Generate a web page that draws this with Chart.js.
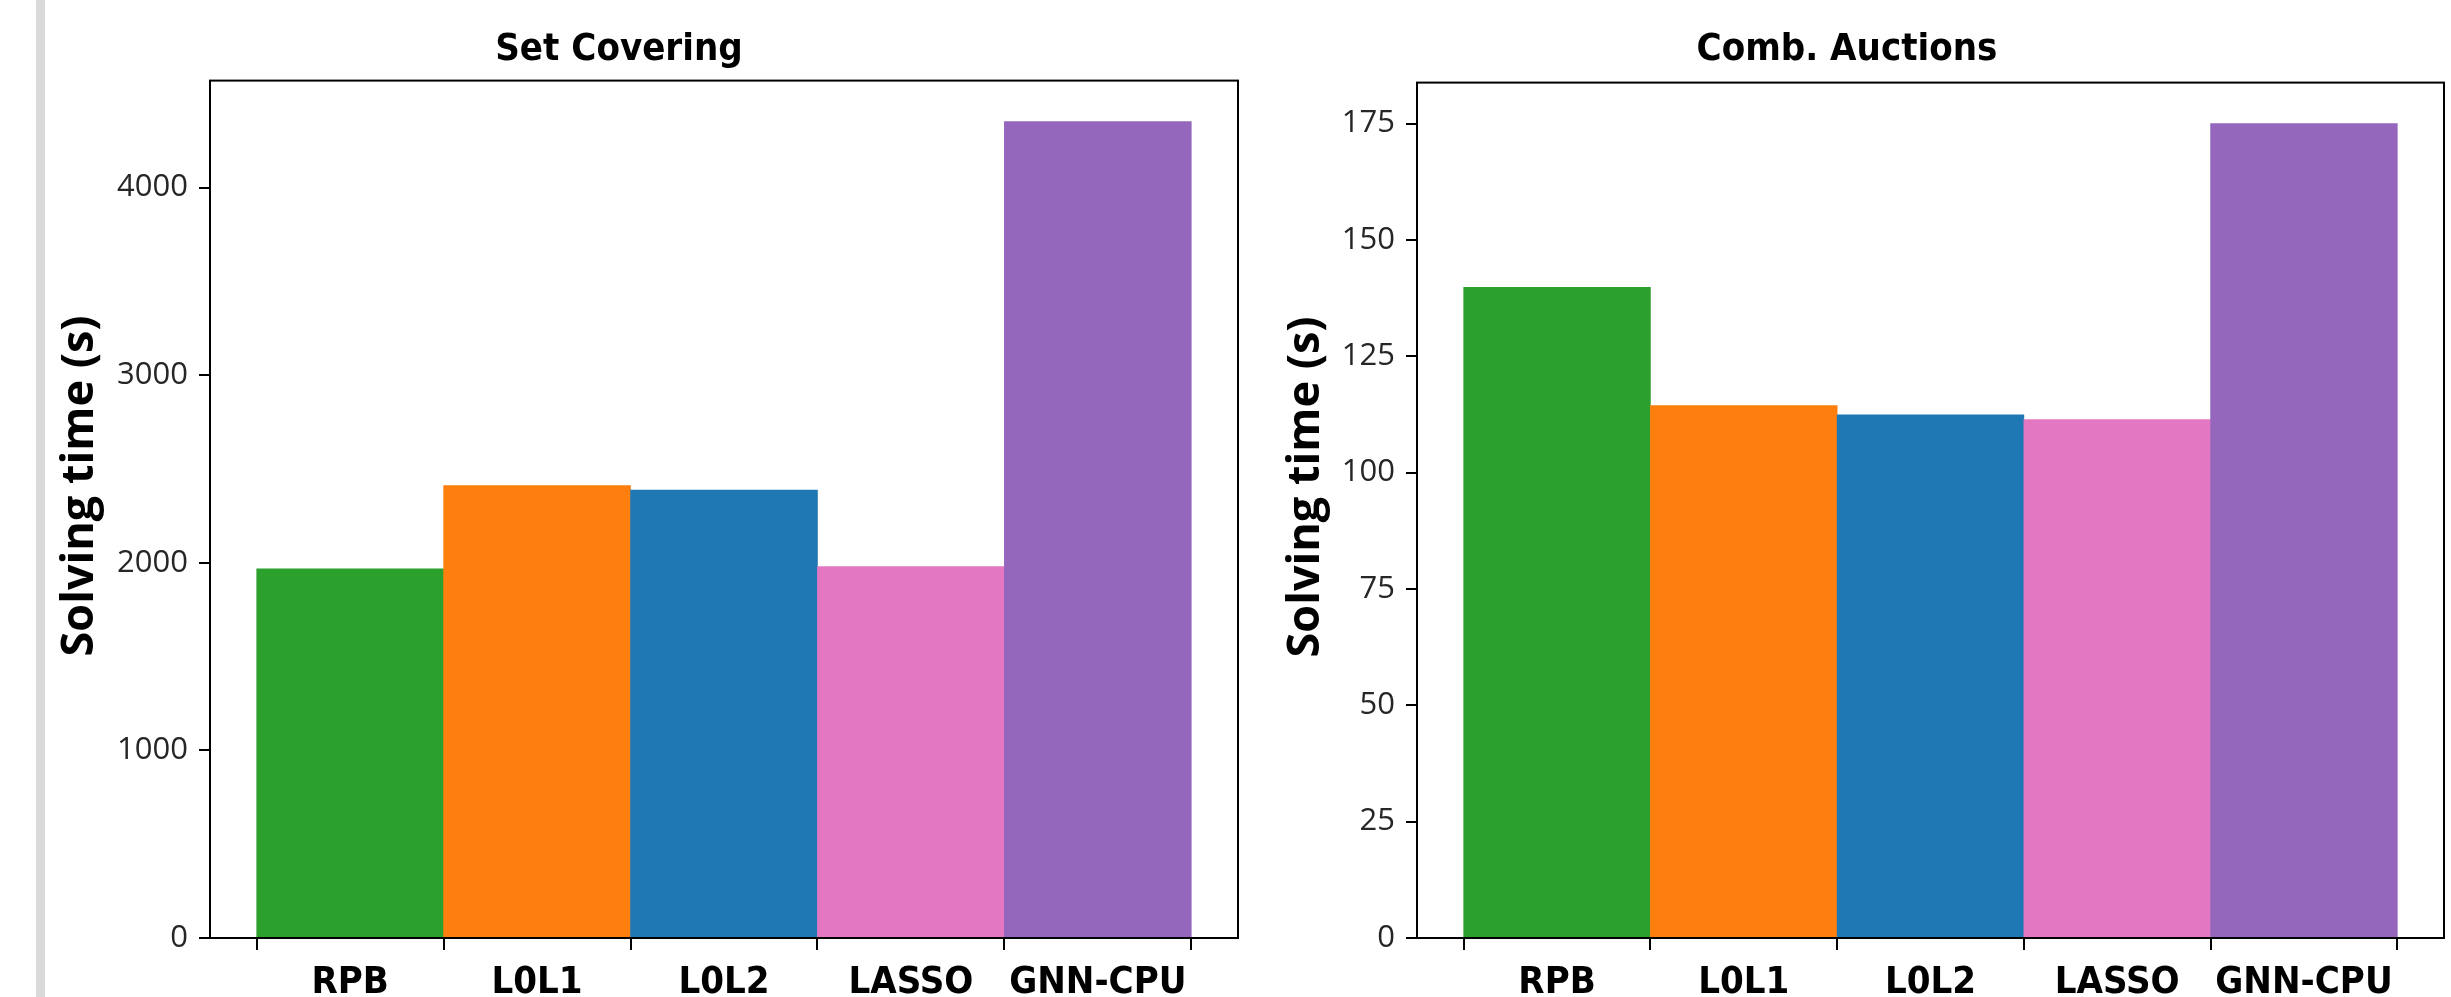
<!DOCTYPE html>
<html>
<head>
<meta charset="utf-8">
<script src="https://cdn.jsdelivr.net/npm/chart.js@4/dist/chart.umd.min.js"></script>
<style>
  html, body { margin: 0; padding: 0; width: 2451px; height: 997px; overflow: hidden; background: #fff; }
  #sidebar { position: absolute; left: 36px; top: 0; width: 9px; height: 997px; background: #dadada; }
  canvas { position: absolute; top: 0; }
  #chart1 { left: 0; }
  #chart2 { left: 1250px; }
</style>
</head>
<body>
<div id="sidebar"></div>
<canvas id="chart1" width="1448" height="997"></canvas>
<canvas id="chart2" width="1361" height="997"></canvas>
<script>
'use strict';

// 手法名
var categories = ["RPB", "L0L1", "L0L2", "LASSO", "GNN-CPU"];
var barColors = ["#2ca02c", "#ff7f0e", "#1f77b4", "#e377c2", "#9467bd"];

// 解く時間 (秒)
var setCoveringTimes = [1968, 2412, 2387, 1980, 4352];
var combAuctionTimes = [139.8, 114.4, 112.4, 111.4, 175.0];

// 軸の設定
var setCoveringMax = 4570;
var setCoveringStep = 1000;
var combAuctionMax = 183.8;
var combAuctionStep = 25;

var condensedFont = '"DejaVu Sans Condensed", "Liberation Sans Narrow", "DejaVu Sans", sans-serif';

// プロット枠を描く
var framePlugin = {
  id: "frame",
  afterDraw: function (chart) {
    var a = chart.chartArea;
    var ctx = chart.ctx;
    ctx.save();
    ctx.strokeStyle = "#000";
    ctx.lineWidth = 2;
    ctx.strokeRect(a.left, a.top, a.right - a.left, a.bottom - a.top);
    ctx.restore();
  }
};

function makeChart(id, title, values, yMax, yStep, yWidth, padRight, yTitlePad, titlePadBottom) {
  var points = values.map(function (v, i) { return { x: i, y: v }; });
  var ctx = document.getElementById(id).getContext("2d");
  return new Chart(ctx, {
    type: "bar",
    data: {
      datasets: [{
        data: points,
        backgroundColor: barColors,
        borderWidth: 0,
        barPercentage: 1,
        categoryPercentage: 1
      }]
    },
    plugins: [framePlugin],
    options: {
      responsive: false,
      animation: false,
      layout: { padding: { left: 0, right: padRight, top: 0, bottom: 0 } },
      plugins: {
        legend: { display: false },
        tooltip: { enabled: false },
        title: {
          display: true,
          text: title,
          color: "#000",
          font: { family: condensedFont, size: 38, weight: "bold" },
          padding: { top: 27, bottom: titlePadBottom }
        }
      },
      scales: {
        x: {
          type: "linear",
          min: -0.75,
          max: 4.75,
          offset: false,
          afterBuildTicks: function (axis) {
            axis.ticks = categories.map(function (c, i) { return { value: i }; });
          },
          afterFit: function (axis) { axis.height = 59; },
          grid: { display: true, drawOnChartArea: false, drawTicks: true, tickLength: 12, color: "#000", lineWidth: 2 },
          border: { display: false },
          ticks: {
            autoSkip: false,
            maxRotation: 0,
            padding: 10,
            color: "#000",
            font: { family: condensedFont, size: 38, weight: "bold" },
            callback: function (value) { return categories[value]; }
          }
        },
        y: {
          bounds: "data",
          afterDataLimits: function (axis) {
            axis.min = 0;
            axis.max = yMax;
          },
          // 上端の目盛りは出さない
          afterBuildTicks: function (axis) {
            axis.ticks = axis.ticks.filter(function (t) {
              var k = t.value / yStep;
              return Math.abs(k - Math.round(k)) < 1e-6;
            });
          },
          afterFit: function (axis) { axis.width = yWidth; },
          grid: { display: true, drawOnChartArea: false, drawTicks: true, tickLength: 11, color: "#000", lineWidth: 2 },
          border: { display: false },
          ticks: {
            stepSize: yStep,
            padding: 11,
            color: "#262626",
            font: { family: '"Open Sans", sans-serif', size: 31 },
            callback: function (value) { return String(value); }
          },
          title: {
            display: true,
            text: "    Solving time (s)",
            color: "#000",
            padding: { top: yTitlePad, bottom: 0 },
            font: { family: '"Open Sans", sans-serif', size: 45, weight: "bold" }
          }
        }
      }
    }
  });
}

var setCoveringChart = makeChart("chart1", "Set Covering", setCoveringTimes, setCoveringMax, setCoveringStep, 210, 210, 53, 8);
var combAuctionChart = makeChart("chart2", "Comb. Auctions", combAuctionTimes, combAuctionMax, combAuctionStep, 167, 167, 29, 10);
</script>
</body>
</html>
